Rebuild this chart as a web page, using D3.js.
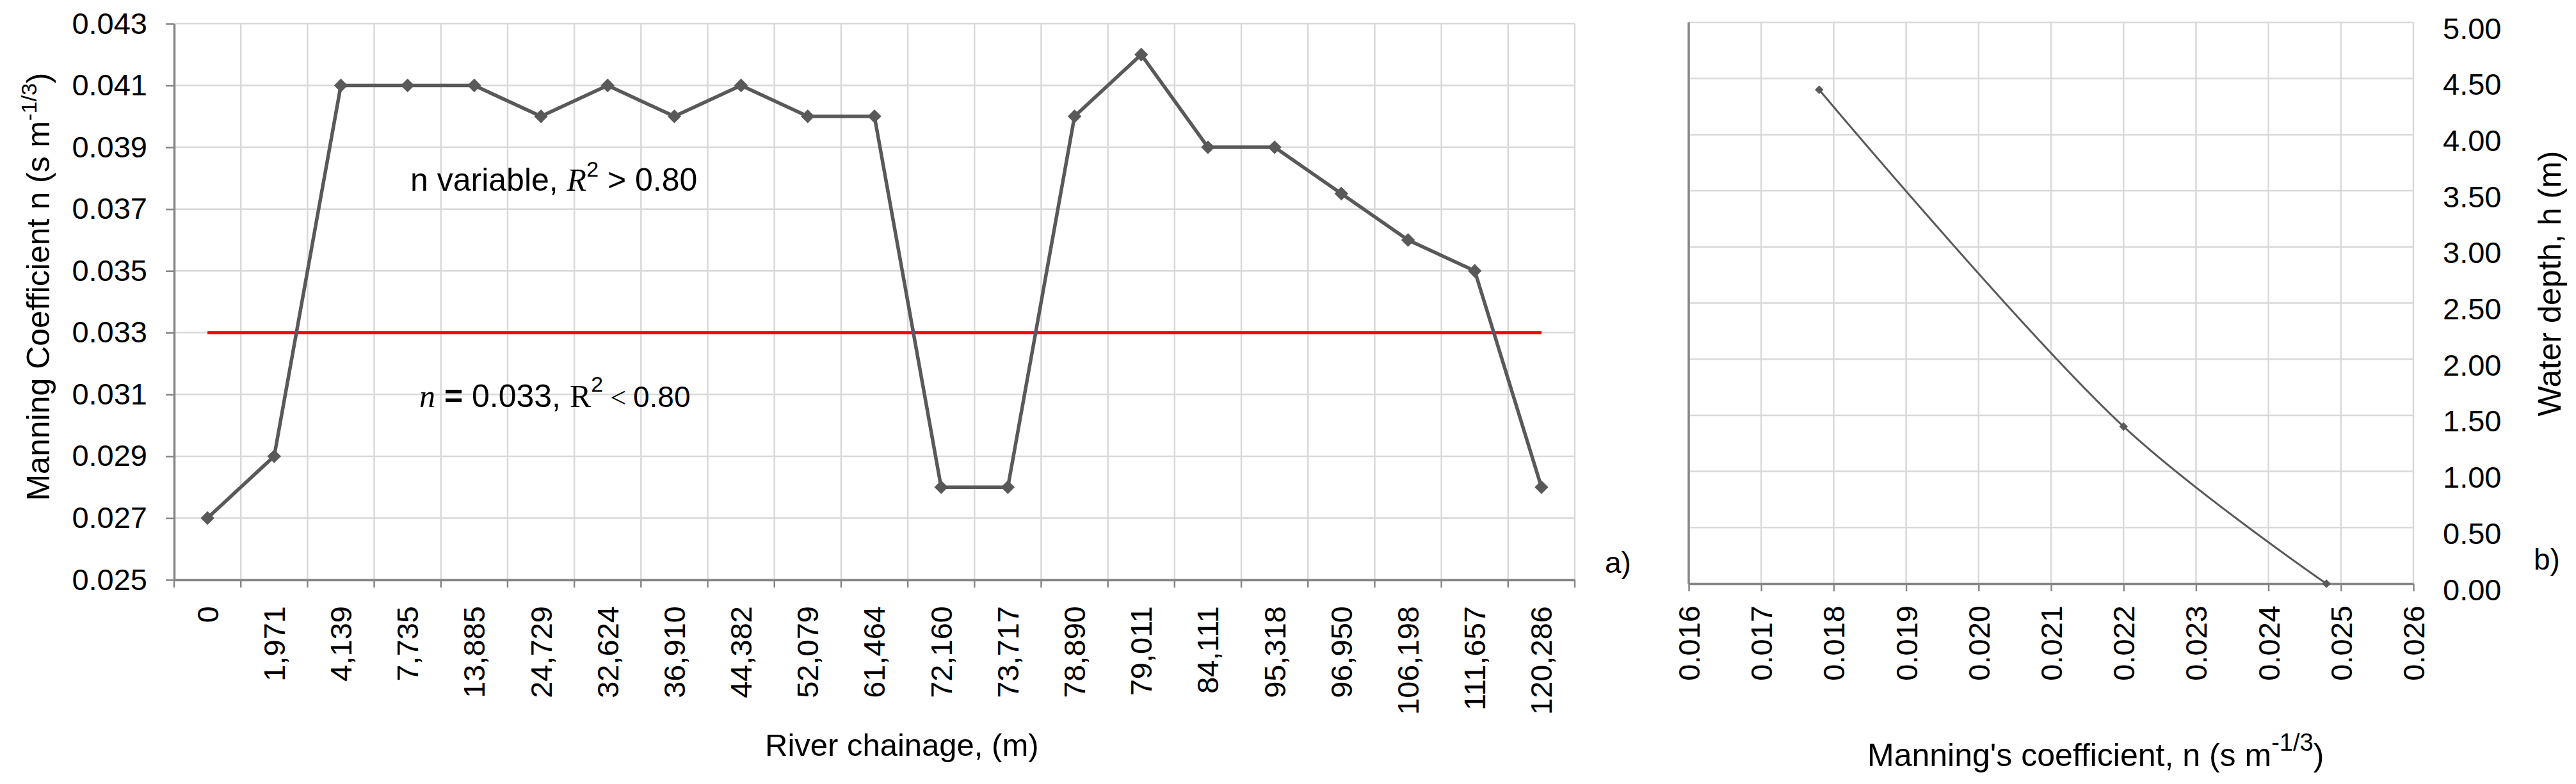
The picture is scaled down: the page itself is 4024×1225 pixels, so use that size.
<!DOCTYPE html>
<html><head><meta charset="utf-8">
<script src="https://cdn.jsdelivr.net/npm/d3@7"></script>
<style>
body{margin:0;background:#fff}
svg{display:block}
text{font-family:"Liberation Sans",Arial,sans-serif;fill:#000}
</style>
</head><body>
<svg id="c" width="4024" height="1225"></svg>
<script>
// ---------- data ----------
const chainages = ["0","1,971","4,139","7,735","13,885","24,729","32,624","36,910","44,382","52,079","61,464","72,160","73,717","78,890","79,011","84,111","95,318","96,950","106,198","111,657","120,286"];
const manningN  = [0.027,0.029,0.041,0.041,0.041,0.040,0.041,0.040,0.041,0.040,0.040,0.028,0.028,0.040,0.042,0.039,0.039,0.0375,0.036,0.035,0.028];
const constantN = 0.033;
const leftYTicks = [0.025,0.027,0.029,0.031,0.033,0.035,0.037,0.039,0.041,0.043];

const depthN = [0.0178,0.0220,0.0248];
const depthH = [4.40,1.40,0.00];
const rightXTicks = [0.016,0.017,0.018,0.019,0.020,0.021,0.022,0.023,0.024,0.025,0.026];
const rightYTicks = [0,0.5,1,1.5,2,2.5,3,3.5,4,4.5,5];

// ---------- styles ----------
const GRID = "#d9d9d9", AXIS = "#868686", SERIES = "#595959";
const svg = d3.select("#c");

// ================= LEFT PANEL =================
const L = {x0:272, x1:2460, y0:37, y1:906};
const x = d3.scaleBand().domain(chainages).range([L.x0, L.x1]).padding(0);
const bw = x.bandwidth();
const y = d3.scaleLinear().domain([0.025,0.043]).range([L.y1, L.y0]);

const gL = svg.append("g");
gL.selectAll(".hg").data(leftYTicks).join("line")
  .attr("x1", L.x0).attr("x2", L.x1)
  .attr("y1", d=>y(d)).attr("y2", d=>y(d))
  .attr("stroke", GRID).attr("stroke-width", 2.5);
const bounds = chainages.map(c=>x(c)).concat([L.x1]);
gL.selectAll(".vg").data(bounds).join("line")
  .attr("x1", d=>d).attr("x2", d=>d)
  .attr("y1", L.y0).attr("y2", L.y1)
  .attr("stroke", GRID).attr("stroke-width", 2.5);
gL.selectAll(".bt").data(bounds).join("line")
  .attr("x1", d=>d).attr("x2", d=>d)
  .attr("y1", L.y1).attr("y2", L.y1+12)
  .attr("stroke", AXIS).attr("stroke-width", 2.5);

const yAxisL = gL.append("g").attr("transform", `translate(${L.x0},0)`)
  .call(d3.axisLeft(y).tickValues(leftYTicks).tickFormat(d3.format(".3f")).tickSize(13).tickSizeOuter(0).tickPadding(29));
yAxisL.select(".domain").attr("stroke", AXIS).attr("stroke-width", 3.5);
yAxisL.selectAll(".tick line").attr("stroke", AXIS).attr("stroke-width", 2.5);
yAxisL.selectAll("text").style("font-size","47px").attr("fill","#000");

const xAxisL = gL.append("g").attr("transform", `translate(0,${L.y1})`)
  .call(d3.axisBottom(x).tickSize(0).tickSizeOuter(0));
xAxisL.select(".domain").attr("stroke", AXIS).attr("stroke-width", 3.5);
xAxisL.selectAll("text").style("font-size","47px")
  .attr("transform","rotate(-90)").attr("text-anchor","end")
  .attr("x", -41).attr("y", 0).attr("dy","0.35em");

gL.append("line")
  .attr("x1", x(chainages[0])+bw/2).attr("x2", x(chainages[chainages.length-1])+bw/2)
  .attr("y1", y(constantN)).attr("y2", y(constantN))
  .attr("stroke", "#ff0000").attr("stroke-width", 5);

const pts = chainages.map((c,i)=>({c, v:manningN[i]}));
gL.append("path").datum(pts)
  .attr("d", d3.line().x(d=>x(d.c)+bw/2).y(d=>y(d.v)))
  .attr("fill","none").attr("stroke", SERIES).attr("stroke-width", 5.5).attr("stroke-linejoin","round");
gL.selectAll(".mk").data(pts).join("path")
  .attr("d", d3.symbol(d3.symbolSquare, 230))
  .attr("transform", d=>`translate(${x(d.c)+bw/2},${y(d.v)}) rotate(45)`)
  .attr("fill", SERIES);

gL.append("text").attr("transform","translate(77,448) rotate(-90)")
  .attr("text-anchor","middle").style("font-size","50px")
  .call(t=>{
    t.append("tspan").text("Manning Coefficient n (s m");
    t.append("tspan").attr("dy",-20).style("font-size","34px").text("-1/3");
    t.append("tspan").attr("dy",20).text(")");
  });
gL.append("text").attr("x",1195).attr("y",1181).style("font-size","49px").text("River chainage, (m)");

gL.append("text").attr("x",641).attr("y",298).style("font-size","50px")
  .call(t=>{
    t.append("tspan").text("n variable, ");
    t.append("tspan").style("font-family","'Liberation Serif','DejaVu Serif',serif").style("font-style","italic").text("R");
    t.append("tspan").attr("dy",-22).style("font-size","34px").text("2");
    t.append("tspan").attr("dy",22).text(" > 0.80");
  });
gL.append("text").attr("x",655).attr("y",636).style("font-size","50px")
  .call(t=>{
    t.append("tspan").style("font-family","'Liberation Serif','DejaVu Serif',serif").style("font-style","italic").text("n");
    t.append("tspan").style("font-weight","bold").text(" = ");
    t.append("tspan").text("0.033, ");
    t.append("tspan").style("font-family","'Liberation Serif','DejaVu Serif',serif").text("R");
    t.append("tspan").attr("dy",-24).style("font-size","34px").text("2");
    t.append("tspan").attr("dy",24).style("font-family","'Liberation Serif','DejaVu Serif',serif").style("font-size","44px").text(" < ");
    t.append("tspan").style("font-family","'Liberation Sans Narrow','Liberation Sans',sans-serif").style("font-size","46px").text("0.80");
  });
svg.append("text").attr("x",2507).attr("y",895).style("font-size","46px").text("a)");

// ================= RIGHT PANEL =================
const R = {x0:2638, x1:3770, y0:35, y1:912};
const xr = d3.scaleLinear().domain([0.016,0.026]).range([R.x0, R.x1]);
const yr = d3.scaleLinear().domain([0,5]).range([R.y1, R.y0]);
const gR = svg.append("g");

gR.selectAll(".hg").data(rightYTicks).join("line")
  .attr("x1", R.x0).attr("x2", R.x1)
  .attr("y1", d=>yr(d)).attr("y2", d=>yr(d))
  .attr("stroke", GRID).attr("stroke-width", 2.5);
gR.selectAll(".vg").data(rightXTicks).join("line")
  .attr("x1", d=>xr(d)).attr("x2", d=>xr(d))
  .attr("y1", R.y0).attr("y2", R.y1)
  .attr("stroke", GRID).attr("stroke-width", 2.5);

const xAxisR = gR.append("g").attr("transform", `translate(0,${R.y1})`)
  .call(d3.axisBottom(xr).tickValues(rightXTicks).tickFormat(d3.format(".3f")).tickSize(12).tickSizeOuter(0));
xAxisR.select(".domain").attr("stroke", AXIS).attr("stroke-width", 3.5);
xAxisR.selectAll(".tick line").attr("stroke", AXIS).attr("stroke-width", 2.5);
xAxisR.selectAll("text").style("font-size","47px")
  .attr("transform","rotate(-90)").attr("text-anchor","end")
  .attr("x", -34).attr("y", 0).attr("dy","0.35em");

gR.append("line").attr("x1",R.x0).attr("x2",R.x0).attr("y1",R.y0).attr("y2",R.y1)
  .attr("stroke", AXIS).attr("stroke-width", 3.5);

const yAxisR = gR.append("g").attr("transform", `translate(${R.x1},0)`)
  .call(d3.axisRight(yr).tickValues(rightYTicks).tickFormat(d3.format(".2f")).tickSize(0).tickPadding(46));
yAxisR.select(".domain").remove();
yAxisR.selectAll("text").style("font-size","47px").attr("dy","25px");

const dpts = depthN.map((n,i)=>({n, h:depthH[i]}));
gR.append("path").datum(dpts)
  .attr("d", d3.line().x(d=>xr(d.n)).y(d=>yr(d.h)).curve(d3.curveCatmullRom.alpha(0.5)))
  .attr("fill","none").attr("stroke", SERIES).attr("stroke-width", 3);
gR.selectAll(".mk").data(dpts).join("path")
  .attr("d", d3.symbol(d3.symbolSquare, 90))
  .attr("transform", d=>`translate(${xr(d.n)},${yr(d.h)}) rotate(45)`)
  .attr("fill", SERIES);

gR.append("text").attr("x",2917).attr("y",1197).style("font-size","50px")
  .call(t=>{
    t.append("tspan").text("Manning's coefficient, n (s m");
    t.append("tspan").attr("dy",-24).style("font-size","38px").text("-1/3");
    t.append("tspan").attr("dy",24).text(")");
  });
gR.append("text").attr("transform","translate(4000,443) rotate(-90)")
  .attr("text-anchor","middle").style("font-size","50px").text("Water depth, h (m)");
svg.append("text").attr("x",3958).attr("y",890).style("font-size","46px").text("b)");
</script>
</body></html>
